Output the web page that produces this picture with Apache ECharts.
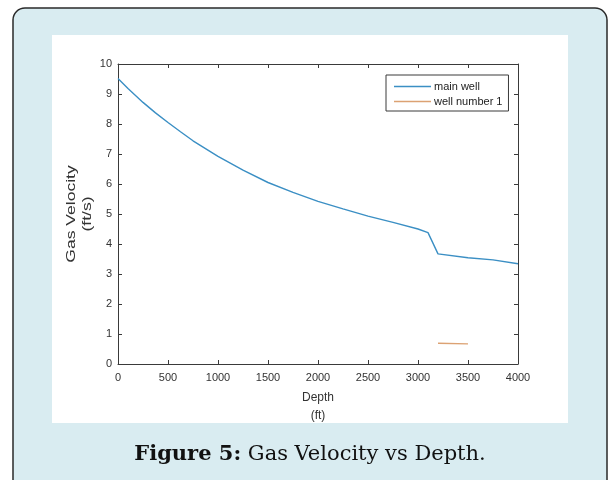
<!DOCTYPE html>
<html>
<head>
<meta charset="utf-8">
<script src="https://cdn.jsdelivr.net/npm/echarts@6/dist/echarts.min.js"></script>
<style>
  html, body { margin: 0; padding: 0; background: #ffffff; }
  #chart { width: 609px; height: 480px; }
</style>
</head>
<body>
<div id="chart"></div>
<script>
// Gas velocity (ft/s) against depth (ft) for the two wells
const mainWellDepth = [0, 100, 250, 375, 500, 625, 750, 1000, 1250, 1500, 1750, 2000, 2250, 2500, 2750, 3000, 3100, 3200, 3500, 3750, 4000];
const mainWellVelocity = [9.52, 9.18, 8.72, 8.37, 8.05, 7.74, 7.44, 6.92, 6.46, 6.05, 5.72, 5.42, 5.17, 4.93, 4.72, 4.50, 4.38, 3.67, 3.54, 3.47, 3.34];
const well1Depth = [3200, 3500];
const well1Velocity = [0.69, 0.67];

const xTicks = [0, 500, 1000, 1500, 2000, 2500, 3000, 3500, 4000];
const yTicks = [0, 1, 2, 3, 4, 5, 6, 7, 8, 9, 10];

const seriesNames = ['main well', 'well number 1'];
const xTitle = ['Depth', '(ft)'];
const yTitle = ['Gas Velocity', '(ft/s)'];
const captionBold = 'Figure 5:';
const captionText = 'Gas Velocity vs Depth.';

const pair = (xs, ys) => xs.map((x, i) => [x, ys[i]]);

const axisColor = '#3a3a3a';
const sans = 'Liberation Sans, Arial, sans-serif';
const serif = 'DejaVu Serif, serif';
const labelStyle = { color: '#333', fontSize: 11, fontFamily: sans };

const grid = { left: 118, top: 64, width: 400, height: 300 };

function xAxisDef(pos, showLabels) {
  return {
    type: 'value', position: pos, min: xTicks[0], max: xTicks[xTicks.length - 1],
    interval: xTicks[1] - xTicks[0],
    axisLine: { show: true, onZero: false, lineStyle: { color: axisColor, width: 1 } },
    axisTick: { show: true, inside: true, length: 4, lineStyle: { color: axisColor } },
    axisLabel: Object.assign({ show: showLabels, margin: 8, formatter: v => String(v) }, labelStyle),
    splitLine: { show: false }
  };
}
function yAxisDef(pos, showLabels) {
  return {
    type: 'value', position: pos, min: yTicks[0], max: yTicks[yTicks.length - 1],
    interval: yTicks[1] - yTicks[0],
    axisLine: { show: true, onZero: false, lineStyle: { color: axisColor, width: 1 } },
    axisTick: { show: true, inside: true, length: 4, lineStyle: { color: axisColor } },
    axisLabel: Object.assign({ show: showLabels, margin: 6, formatter: v => String(v) }, labelStyle),
    splitLine: { show: false }
  };
}

const xBottom = xAxisDef('bottom', true);
xBottom.name = xTitle.join('\n');
xBottom.nameLocation = 'middle';
xBottom.nameGap = 25;
xBottom.nameTextStyle = { color: '#333', fontSize: 12, lineHeight: 18, fontFamily: sans };

// Vertical axis title: drawn as rotated text, stretched along its length
const plotMidY = grid.top + grid.height / 2;
const yTitleText = (txt, cx) => ({
  type: 'text', z: 5, x: cx, y: plotMidY, rotation: Math.PI / 2, scaleX: 1.35, scaleY: 1,
  style: { text: txt, fill: '#333', fontSize: 13, fontFamily: sans, align: 'center', verticalAlign: 'middle' }
});

const chart = echarts.init(document.getElementById('chart'), null, { renderer: 'canvas' });
chart.setOption({
  backgroundColor: 'transparent',
  animation: false,
  graphic: [
    { type: 'rect', z: -20, shape: { x: 13, y: 8, width: 594, height: 500, r: 12 },
      style: { fill: '#d9ecf1', stroke: '#2a2a2a', lineWidth: 1.5 } },
    { type: 'rect', z: -10, shape: { x: 52, y: 35, width: 516, height: 388 },
      style: { fill: '#ffffff' } },
    yTitleText(yTitle[0], 71),
    yTitleText(yTitle[1], 87),
    // Figure caption below the plot panel
    { type: 'text', z: 5, x: 310, y: 455,
      style: {
        text: '{b|' + captionBold + '}{n| ' + captionText + '}',
        align: 'center', verticalAlign: 'middle',
        rich: {
          b: { fontFamily: serif, fontWeight: 'bold', fontSize: 21, fill: '#111' },
          n: { fontFamily: serif, fontWeight: 'normal', fontSize: 21, fill: '#111' }
        }
      } }
  ],
  grid: grid,
  legend: {
    left: 386, top: 75,
    orient: 'vertical',
    data: seriesNames.map(n => ({ name: n, icon: 'rect' })),
    itemWidth: 37, itemHeight: 1.5, itemGap: 2,
    padding: [5, 6, 3, 8],
    borderColor: '#3a3a3a', borderWidth: 1,
    backgroundColor: '#ffffff',
    textStyle: { color: '#222', fontSize: 11, lineHeight: 13, padding: [0, 0, 0, -2], fontFamily: sans }
  },
  xAxis: [xBottom, xAxisDef('top', false)],
  yAxis: [yAxisDef('left', true), yAxisDef('right', false)],
  series: [
    { name: seriesNames[0], type: 'line', xAxisIndex: 0, yAxisIndex: 0, data: pair(mainWellDepth, mainWellVelocity),
      showSymbol: false, lineStyle: { color: '#3b8fc4', width: 1.4 }, itemStyle: { color: '#3b8fc4' } },
    { name: seriesNames[1], type: 'line', xAxisIndex: 0, yAxisIndex: 0, data: pair(well1Depth, well1Velocity),
      showSymbol: false, lineStyle: { color: '#dca273', width: 1.4 }, itemStyle: { color: '#dca273' } }
  ]
});
</script>
</body>
</html>
